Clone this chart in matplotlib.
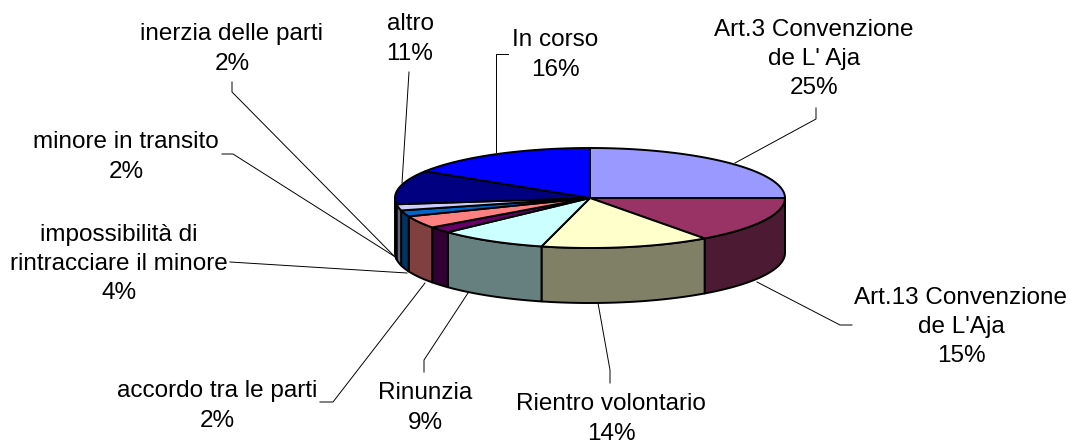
import numpy as np
import matplotlib.pyplot as plt
from matplotlib.patches import Polygon
from matplotlib.colors import to_rgb

# dati del grafico
labels = ["Art.3 Convenzione\nde L' Aja", "Art.13 Convenzione\nde L'Aja",
          "Rientro volontario", "Rinunzia", "accordo tra le parti",
          "impossibilità di\nrintracciare il minore", "minore in transito",
          "inerzia delle parti", "altro", "In corso"]
values = [25, 15, 14, 9, 2, 4, 2, 2, 11, 16]
colors = ["#9999FF", "#993366", "#FFFFCC", "#CCFFFF", "#660066",
          "#FF8080", "#0066CC", "#CCCCFF", "#000080", "#0000FF"]

# posizione delle etichette (pixel) e linee guida
label_pos = [(814, 59), (961, 327), (611, 419), (425, 408), (217, 406),
             (119, 264), (126, 157), (232, 49), (410, 39), (555, 55)]
leaders = [
    [(816, 108), (816, 119), (735, 163)],
    [(852, 325), (840, 325), (757, 282)],
    [(610, 383), (610, 370), (598, 303)],
    [(424, 372), (424, 360), (468, 293)],
    [(320, 402), (333, 402), (425, 283)],
    [(230, 262), (407, 273)],
    [(222, 154), (233, 154), (397, 258)],
    [(232, 82), (232, 92), (400, 262)],
    [(409, 72), (402, 183)],
    [(508, 54), (496, 54), (496, 152)],
]

# geometria della torta 3D
cx, cy, a, b, depth = 590, 198, 195, 50, 55


def pts(thetas, dz=0):
    t = np.radians(thetas)
    return np.column_stack([cx + a * np.cos(t), cy - b * np.sin(t) + dz])


fig = plt.figure(figsize=(10.7, 4.44), dpi=100)
ax = fig.add_axes([0, 0, 1, 1])
ax.set_xlim(0, 1070)
ax.set_ylim(444, 0)
ax.axis('off')

cum = np.concatenate([[0], np.cumsum(values)]) / sum(values) * 360
starts = 90 - cum[:-1]
ends = 90 - cum[1:]

# pareti laterali (solo la parte frontale)
for s, e, c in zip(starts, ends, colors):
    hi, lo = min(s, 0), max(e, -180)
    if hi <= lo:
        continue
    th = np.linspace(hi, lo, 80)
    top = pts(th)
    bot = pts(th, depth)[::-1]
    dark = tuple(v * 0.5 for v in to_rgb(c))
    ax.add_patch(Polygon(np.vstack([top, bot]), closed=True, facecolor=dark,
                         edgecolor='black', lw=1.4, zorder=1, joinstyle='round'))

# faccia superiore
for s, e, c in zip(starts, ends, colors):
    th = np.linspace(s, e, 120)
    poly = np.vstack([[cx, cy], pts(th)])
    ax.add_patch(Polygon(poly, closed=True, facecolor=c, edgecolor='black',
                         lw=1.4, zorder=2, joinstyle='round'))

# linee guida
for line in leaders:
    xs, ys = zip(*line)
    ax.plot(xs, ys, color='black', lw=0.7, zorder=0.5)

# etichette
for lab, v, (x, y) in zip(labels, values, label_pos):
    ax.text(x, y, f"{lab}\n{v}%", ha='center', va='center',
            multialignment='center', fontsize=17.5, linespacing=1.42,
            family=['Liberation Sans', 'DejaVu Sans'], color='black')

fig.savefig('out.png', dpi=100)
